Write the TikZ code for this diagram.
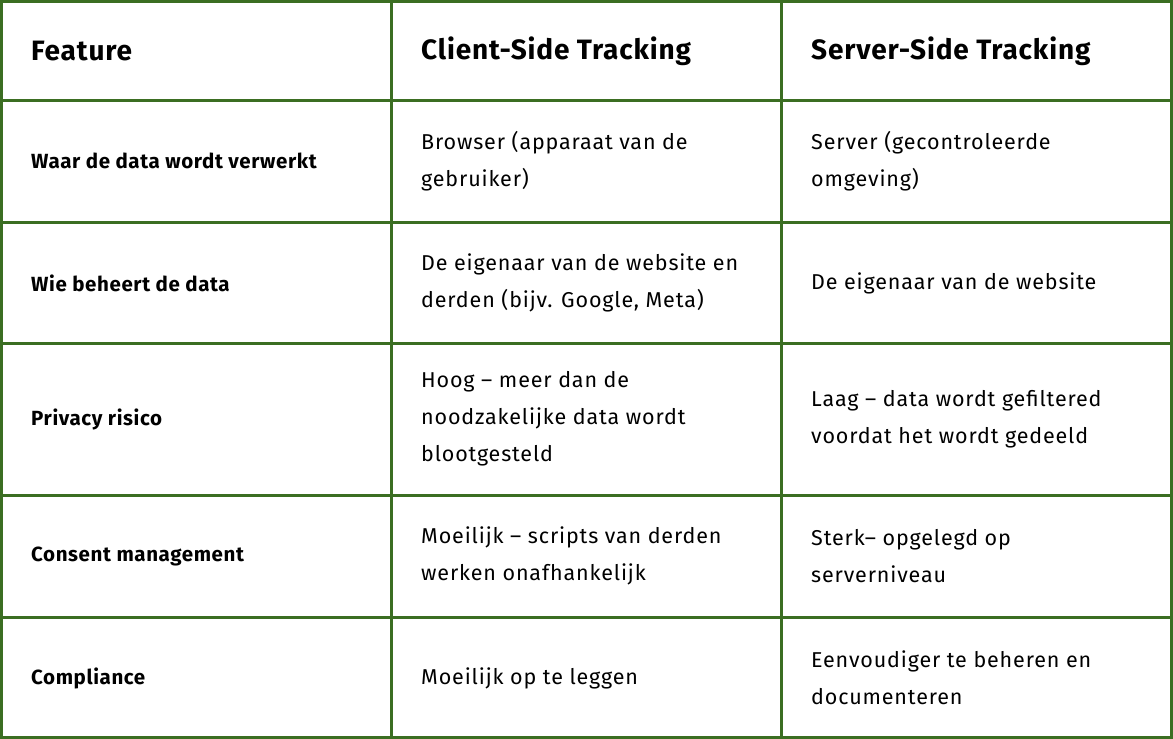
\documentclass[tikz,border=0pt]{standalone}
\usepackage{fontspec}
\setmainfont{Fira Sans}
\usetikzlibrary{positioning}
\definecolor{gridgreen}{HTML}{3B6E22}
\begin{document}
\begin{tikzpicture}
		[x=1pt,y=-1pt,line cap=rect,
		%Styles
		grid line/.style={gridgreen,line width=3pt},
		head text/.style={anchor=west,inner sep=0pt,font=\fontsize{28}{30}\selectfont\bfseries\addfontfeatures{LetterSpace=3}},
		key text/.style={anchor=west,inner sep=0pt,font=\fontsize{20.5}{37}\selectfont\bfseries\addfontfeatures{LetterSpace=3}},
		cell text/.style={anchor=west,inner sep=0pt,align=left,font=\fontsize{21.5}{37}\selectfont\addfontfeatures{LetterSpace=4}}
		]
		
		\useasboundingbox (0,0) rectangle (1173,739);
		\fill[white] (0,0) rectangle (1173,739);
		
		%The grid
		\foreach \x in {1.5,391,781,1171.5}
			\draw[grid line] (\x,1.5) -- (\x,737.5);
		\foreach \y in {1.5,100,222,343,495,617,737.5}
			\draw[grid line] (1.5,\y) -- (1171.5,\y);
		
		%Header
		\node[head text] (feat) at (31,51) {Feature};
		\node[head text] (client) at (421,51) {Client-Side Tracking};
		\node[head text] (server) at (811,51) {Server-Side Tracking};
		
		%Rows
		\node[key text] (where) at (31,161) {Waar de data wordt verwerkt};
		\node[cell text] (whereC) at (421,161) {Browser (apparaat van de\\gebruiker)};
		\node[cell text] (whereS) at (811,161) {Server (gecontroleerde\\omgeving)};
		
		\node[key text] (who) at (31,283) {Wie beheert de data};
		\node[cell text] (whoC) at (421,283) {De eigenaar van de website en\\derden (bijv. Google, Meta)};
		\node[cell text] (whoS) at (811,283) {De eigenaar van de website};
		
		\node[key text] (risk) at (31,419) {Privacy risico};
		\node[cell text] (riskC) at (421,419) {Hoog – meer dan de\\noodzakelijke data wordt\\blootgesteld};
		\node[cell text] (riskS) at (811,419) {Laag – data wordt gefiltered\\voordat het wordt gedeeld};
		
		\node[key text] (consent) at (31,556) {Consent management};
		\node[cell text] (consentC) at (421,556) {Moeilijk – scripts van derden\\werken onafhankelijk};
		\node[cell text] (consentS) at (811,556) {Sterk– opgelegd op\\serverniveau};
		
		\node[key text] (comp) at (31,678) {Compliance};
		\node[cell text] (compC) at (421,678) {Moeilijk op te leggen};
		\node[cell text] (compS) at (811,678) {Eenvoudiger te beheren en\\documenteren};
	\end{tikzpicture}
\end{document}
